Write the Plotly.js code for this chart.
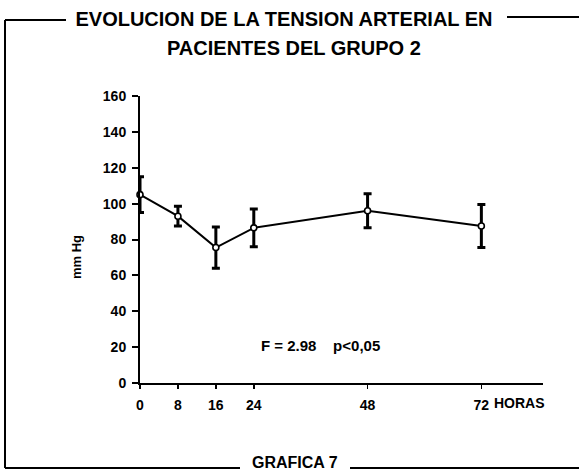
<!DOCTYPE html>
<html>
<head>
<meta charset="utf-8">
<script src="https://cdn.plot.ly/plotly-3.0.1.min.js"></script>
<style>html,body{margin:0;padding:0;background:#fff;}#chart{width:579px;height:473px;}</style>
</head>
<body>
<div id="chart"></div>
<script>
// Data
const hours = [0, 8, 16, 24, 48, 72];
const pressure = [105, 93, 75.5, 86.5, 96, 87.5];
const errorMmHg = [10, 5.5, 11.5, 10.5, 9.5, 12];
const xTickVals = [0, 8, 16, 24, 48, 72];
const xTickText = ['0', '8', '16', '24', '48', '72'];
const yTickVals = [0, 20, 40, 60, 80, 100, 120, 140, 160];
const titleLine1 = 'EVOLUCION DE LA TENSION ARTERIAL EN';
const titleLine2 = 'PACIENTES DEL GRUPO 2';
const statText = 'F = 2.98    p<0,05';

// Layout geometry (pixels) -> paper coordinates
const W = 579, H = 473;
const L = 140, R = 543, T = 96, B = 383;
const px = v => (v - L) / (R - L);
const py = v => (B - v) / (B - T);

const FONT = 'Liberation Sans, Arial, sans-serif';

const trace = {
  x: hours,
  y: pressure,
  type: 'scatter',
  mode: 'lines+markers',
  line: {color: '#000', width: 2},
  marker: {symbol: 'circle', size: 6, color: '#fff', line: {color: '#000', width: 1.6}},
  error_y: {type: 'data', array: errorMmHg, visible: true, color: '#000', thickness: 3, width: 4},
  cliponaxis: false,
  hoverinfo: 'x+y'
};

function line(x0, y0, x1, y1, w) {
  return {type: 'line', xref: 'paper', yref: 'paper', x0: px(x0), y0: py(y0), x1: px(x1), y1: py(y1),
          line: {color: '#000', width: w || 2}};
}

const layout = {
  width: W, height: H,
  margin: {l: L, r: W - R, t: T, b: H - B, pad: 0},
  paper_bgcolor: '#fff', plot_bgcolor: '#fff',
  showlegend: false,
  font: {family: FONT, color: '#000'},
  title: {
    text: '<b>' + titleLine1 + '</b>',
    font: {family: FONT, size: 20, color: '#000'},
    x: 284 / W, xanchor: 'center', xref: 'container',
    y: (H - 19) / H, yanchor: 'middle', yref: 'container'
  },
  xaxis: {
    range: [0, 85], showgrid: false, zeroline: false,
    showline: true, linecolor: '#000', linewidth: 2,
    ticks: 'outside', ticklen: 4, tickwidth: 1.5, tickcolor: '#000',
    tickvals: xTickVals, ticktext: xTickText,
    tickfont: {family: FONT, size: 14, color: '#000', weight: 'bold'},
    ticklabelstandoff: 4
  },
  yaxis: {
    range: [0, 160], showgrid: false, zeroline: false,
    showline: true, linecolor: '#000', linewidth: 2,
    ticks: 'outside', ticklen: 6, tickwidth: 2, tickcolor: '#000',
    tickvals: yTickVals,
    tickfont: {family: FONT, size: 14, color: '#000', weight: 'bold'},
    ticklabelstandoff: 3
  },
  annotations: [
    {text: '<b>' + titleLine2 + '</b>', xref: 'paper', yref: 'paper', x: px(294), y: py(48),
     xanchor: 'center', yanchor: 'middle', showarrow: false, font: {family: FONT, size: 20, color: '#000'}},
    {text: '<b>HORAS</b>', xref: 'x', yref: 'paper', x: 72, y: py(403), xanchor: 'left', yanchor: 'middle',
     xshift: 11, showarrow: false, font: {family: FONT, size: 14, color: '#000'}},
    {text: '<b>mm Hg</b>', xref: 'paper', yref: 'paper', x: px(76), y: py(257), textangle: -90,
     xanchor: 'center', yanchor: 'middle', showarrow: false, font: {family: FONT, size: 13, color: '#000'}},
    {text: '<b>' + statText + '</b>', xref: 'paper', yref: 'paper', x: px(320), y: py(345),
     xanchor: 'center', yanchor: 'middle', showarrow: false, font: {family: FONT, size: 15, color: '#000'}},
    {text: '<b>GRAFICA 7</b>', xref: 'paper', yref: 'paper', x: px(295), y: py(473),
     xanchor: 'center', yanchor: 'bottom', showarrow: false, font: {family: FONT, size: 16, color: '#000'}}
  ],
  shapes: [
    line(5, 20, 5, 468, 2),
    line(5, 20, 66, 20, 2),
    line(507, 17, 579, 17, 2),
    line(5, 468, 240, 468, 2),
    line(350, 468, 579, 468, 2)
  ]
};

Plotly.newPlot('chart', [trace], layout, {displayModeBar: false, staticPlot: true});
</script>
</body>
</html>
